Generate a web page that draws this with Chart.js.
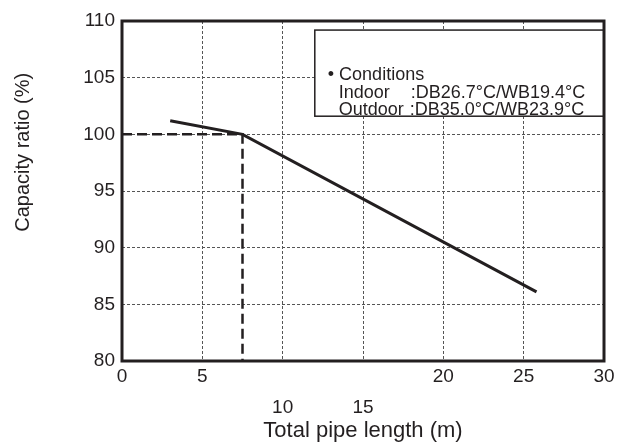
<!DOCTYPE html>
<html><head><meta charset="utf-8">
<style>html,body{margin:0;padding:0;background:#fff;}</style>
<script src="https://cdn.jsdelivr.net/npm/chart.js@4.4.1/dist/chart.umd.min.js"></script>
</head><body>
<canvas id="c" width="622" height="446"></canvas>
<script>
// ---- data ----
const pipeLength = [3, 7.5, 25.8];
const capacityRatio = [101.2, 100, 86.1];
const refLength = [0, 7.5, 7.5];
const refRatio = [100, 100, 80];
const xTickValues = [0, 5, 10, 15, 20, 25, 30];
const xTicksLowered = [10, 15];
const yTickValues = [80, 85, 90, 95, 100, 105, 110];
const xTitle = 'Total pipe length (m)';
const yTitle = 'Capacity ratio (%)';
const condHeader = '• Conditions';
const condLabels = ['Indoor', 'Outdoor'];
const condValues = [':DB26.7°C/WB19.4°C', ':DB35.0°C/WB23.9°C'];

// ---- style ----
const FONT = '"Liberation Sans", Arial, Helvetica, sans-serif';
const INK = '#231f20';
const GRID = '#555';

const toPts = (xs, ys) => xs.map((x, i) => ({x, y: ys[i]}));

const decor = {
  id: 'decor',
  beforeDatasetsDraw(chart) {
    const {ctx, scales: {x, y}} = chart;
    // conditions box (annotation, in data units)
    const bx0 = x.getPixelForValue(12), bx1 = x.getPixelForValue(30);
    const by0 = y.getPixelForValue(109.2), by1 = y.getPixelForValue(101.6);
    ctx.save();
    ctx.fillStyle = '#fff';
    ctx.fillRect(bx0, by0, bx1 - bx0, by1 - by0);
    ctx.strokeStyle = INK;
    ctx.lineWidth = 1.5;
    ctx.strokeRect(bx0, by0, bx1 - bx0, by1 - by0);
    ctx.fillStyle = INK;
    ctx.font = '18px ' + FONT;
    ctx.textBaseline = 'alphabetic';
    ctx.textAlign = 'left';
    ctx.fillText(condHeader, bx0 + 13, by0 + 50);
    ctx.fillText(condLabels[0], bx0 + 24, by0 + 67.5);
    ctx.fillText(condValues[0], bx0 + 96, by0 + 67.5);
    ctx.fillText(condLabels[1], bx0 + 24, by0 + 85);
    ctx.fillText(condValues[1], bx0 + 95, by0 + 85);
    ctx.restore();
  },
  afterDraw(chart) {
    const {ctx, chartArea: a} = chart;
    ctx.save();
    ctx.strokeStyle = INK;
    ctx.lineWidth = 3;
    ctx.strokeRect(a.left, a.top, a.right - a.left, a.bottom - a.top);
    // y axis title
    ctx.fillStyle = INK;
    ctx.font = '20px ' + FONT;
    ctx.textAlign = 'center';
    ctx.textBaseline = 'middle';
    ctx.translate(23, a.top + (a.bottom - a.top) * 0.386);
    ctx.rotate(-Math.PI / 2);
    ctx.fillText(yTitle, 0, 0);
    ctx.restore();
  }
};

new Chart(document.getElementById('c'), {
  type: 'scatter',
  data: {
    datasets: [
      {
        data: toPts(refLength, refRatio),
        showLine: true, borderColor: INK, borderWidth: 2.5,
        borderDash: [10, 5], pointRadius: 0, tension: 0, fill: false
      },
      {
        data: toPts(pipeLength, capacityRatio),
        showLine: true, borderColor: INK, borderWidth: 3,
        pointRadius: 0, tension: 0, fill: false
      }
    ]
  },
  options: {
    responsive: false,
    animation: false,
    layout: {padding: {left: 0, right: 18, top: 21, bottom: 0}},
    plugins: {legend: {display: false}, tooltip: {enabled: false}},
    scales: {
      x: {
        type: 'linear', min: 0, max: 30,
        afterBuildTicks: s => { s.ticks = xTickValues.map(v => ({value: v})); },
        afterFit: s => { s.height = 85; },
        grid: {color: GRID, lineWidth: 1, drawTicks: false},
        border: {display: false, dash: [3, 2]},
        ticks: {
          color: INK, padding: 0.5, maxRotation: 0, autoSkip: false,
          font: {family: FONT, size: 19, lineHeight: '31px'},
          callback: v => xTicksLowered.includes(v) ? ['', String(v)] : String(v)
        },
        title: {
          display: true, text: xTitle, color: INK,
          font: {family: FONT, size: 22}, padding: {top: 0, bottom: 2}
        }
      },
      y: {
        type: 'linear', min: 80, max: 110,
        afterBuildTicks: s => { s.ticks = yTickValues.map(v => ({value: v})); },
        afterFit: s => { s.width = 122; },
        grid: {color: GRID, lineWidth: 1, drawTicks: false},
        border: {display: false, dash: [3, 2]},
        ticks: {color: INK, padding: 7, font: {family: FONT, size: 19}}
      }
    }
  },
  plugins: [decor]
});
</script>
</body></html>
